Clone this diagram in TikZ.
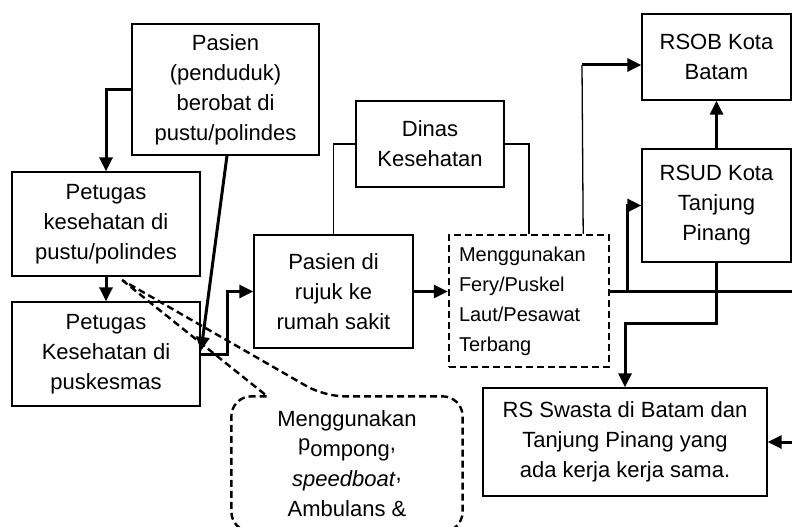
\documentclass[tikz,border=0pt]{standalone}
\usepackage{fontspec}
\setmainfont{Liberation Sans}
\usetikzlibrary{arrows.meta,calc}

\begin{document}
\begin{tikzpicture}[x=1pt,y=-1pt,
  box/.style={draw,line width=1.3pt,align=center,inner sep=0pt,font=\fontsize{22}{30}\selectfont},
  dashbox/.style={draw,line width=2.4pt,dash pattern=on 7pt off 4pt,align=left,inner xsep=10pt,inner ysep=0pt,font=\fontsize{20}{30}\selectfont},
  link/.style={line width=1.3pt},
  rail/.style={line width=3pt},
  flow/.style={line width=3pt,-{Triangle[length=14pt,width=13pt]}},
  hint/.style={line width=2.4pt,dash pattern=on 7pt off 4pt}]
\path[use as bounding box] (0,0) rectangle (792,527);
\node[box,minimum width=187pt,minimum height=131pt] (pasien) at (225.5,89.5) {Pasien\\(penduduk)\\berobat di\\pustu/polindes};
\node[box,minimum width=188pt,minimum height=104pt] (petpustu) at (106,224) {Petugas\\kesehatan di\\pustu/polindes};
\node[box,minimum width=188pt,minimum height=104pt] (petpusk) at (106,354) {Petugas\\Kesehatan di\\puskesmas};
\node[box,minimum width=159pt,minimum height=113pt] (rujuk) at (333.5,291.5) {Pasien di\\rujuk ke\\rumah sakit};
\node[box,minimum width=148pt,minimum height=86pt] (dinas) at (430,144) {Dinas\\Kesehatan};
\node[dashbox,text width=140pt,minimum height=132pt] (fery) at (529,301) {Menggunakan\\Fery/Puskel\\Laut/Pesawat\\Terbang};
\node[box,minimum width=149pt,minimum height=86pt] (rsob) at (716.5,57) {RSOB Kota\\Batam};
\node[box,minimum width=149pt,minimum height=113pt] (rsud) at (716.5,205.5) {RSUD Kota\\Tanjung\\Pinang};
\node[box,minimum width=284pt,minimum height=108pt] (swasta) at (625,442) {RS Swasta di Batam dan\\Tanjung Pinang yang\\ada kerja kerja sama.};
\node[box,draw=none,minimum width=230pt,minimum height=134pt] (boat) at (347,464) {Menggunakan\\\raisebox{6pt}{p}ompong\raisebox{6pt}{,}\\\textit{speedboat}\raisebox{6pt}{,}\\Ambulans \&};
\coordinate (pusk in) at (201,351);
\coordinate (rail end) at (792,291.5);
\coordinate (rsob up) at (582,65);
\coordinate (swasta in) at (792,442);
\coordinate (boat tip) at (122,280);
\draw[flow] (pasien.west) -| (petpustu.north);
\draw[flow] (petpustu.south) -- (petpusk.north);
\draw[flow] ([xshift=1.5pt]pasien.south) -- (pusk in);
\draw[flow] (petpusk.east) -- ++(27,0) |- (rujuk.west);
\draw[link] (dinas.west) -| (rujuk.north);
\draw[link] (dinas.east) -| (fery.north);
\draw[flow] (rujuk.east) -- (rujuk.east -| fery.west);
\draw[rail] (rujuk.east -| fery.east) -- (rail end);
\draw[flow] ($(rujuk.east -| fery.east)+(17,0)$) |- (rsud.west);
\draw[flow] (rsud.north) -- (rsob.south);
\draw[flow] (rsud.south) -- ++(0,61) -| (swasta.north);
\draw[link] ($(fery.north east)+(-27,0)$) -- (rsob up);
\draw[flow] (rsob up) -- (rsob up -| rsob.west);
\draw[flow] (swasta in) -- (swasta.east);
\draw[hint] (boat tip) -- ($(boat.north west)+(36,0)$) [rounded corners=20pt] -- (boat.north west) -- (boat.south west) -- (boat.south east) -- (boat.north east) -- ($(boat.north west)+(93,0)$) [sharp corners] -- (boat tip);
\end{tikzpicture}
\end{document}
